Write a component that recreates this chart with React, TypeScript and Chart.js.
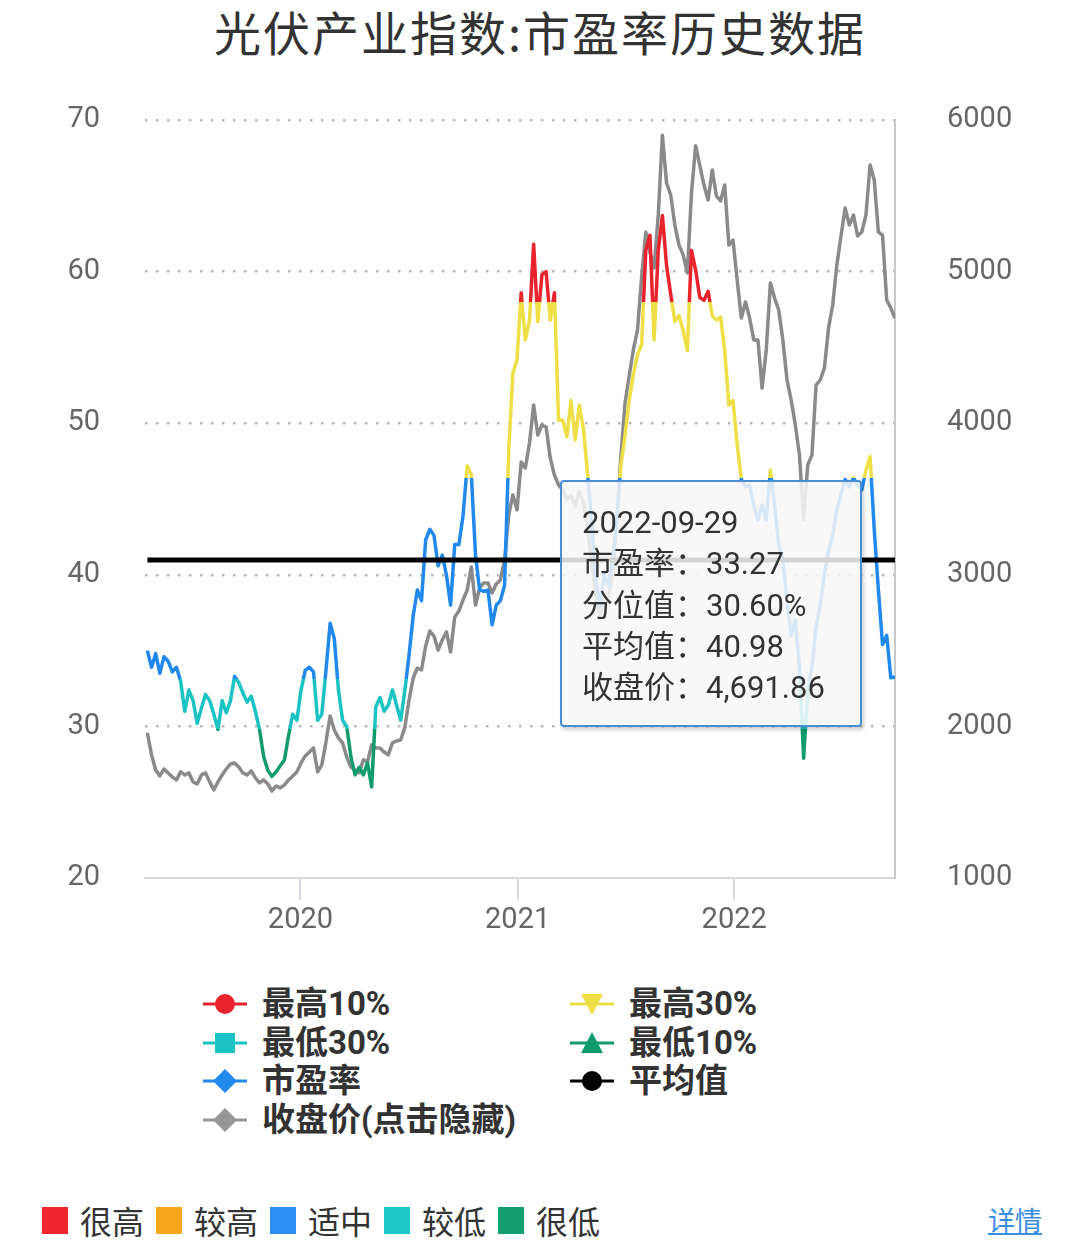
import React, { useEffect, useRef } from 'react';
import { Chart, registerables } from 'chart.js';

Chart.register(...registerables);

const TITLE = '光伏产业指数:市盈率历史数据';
const START_DATE = '2019-04-18';
const STEP_DAYS = 7;

const peValues = [
  35.0, 33.9, 34.8, 33.5, 34.6, 34.3, 33.6, 33.9, 33.0, 31.0,
  32.4, 31.7, 30.2, 31.2, 32.1, 31.7, 30.8, 29.8, 31.7, 30.9,
  31.7, 33.3, 32.9, 32.2, 31.6, 32.0, 31.0, 29.8, 28.0, 27.1,
  26.7, 27.0, 27.4, 27.8, 29.4, 30.8, 30.4, 32.4, 33.7, 33.9,
  33.6, 30.4, 30.8, 33.7, 36.8, 35.8, 32.4, 30.4, 30.0, 28.0,
  26.8, 27.3, 26.8, 27.6, 26.0, 31.3, 31.9, 31.0, 31.4, 32.4,
  31.4, 30.4, 32.4, 34.7, 37.3, 39.0, 38.3, 42.3, 43.0, 42.6,
  40.6, 41.3, 40.0, 38.0, 42.0, 42.0, 43.9, 47.2, 46.6, 41.3,
  39.0, 38.9, 39.0, 36.7, 38.0, 38.3, 39.3, 48.2, 53.3, 54.2,
  58.6, 55.5, 56.8, 61.8, 56.7, 59.8, 60.0, 56.8, 58.6, 50.2,
  50.2, 49.1, 51.5, 48.9, 51.2, 49.6, 46.6, 43.3, 39.7, 38.0,
  40.0, 39.3, 41.0, 43.6, 47.2, 49.2, 51.5, 53.2, 54.5, 55.2,
  61.4, 62.4, 55.5, 61.4, 63.7, 60.4, 58.5, 56.7, 57.1, 56.1,
  54.8, 61.4, 60.1, 58.3, 58.1, 58.7, 57.1, 56.8, 57.0, 54.8,
  51.2, 51.5, 48.6, 46.3, 45.8, 45.9, 44.6, 43.6, 44.6, 43.6,
  46.9, 44.6, 42.0, 41.0, 38.3, 36.0, 37.0, 33.9, 27.9, 32.4,
  33.9, 36.6, 38.0, 40.0, 41.6, 42.6, 44.3, 45.3, 46.3, 45.8,
  46.4, 45.9, 45.6, 46.9, 47.8, 43.0, 39.0, 35.4, 36.0, 33.2,
  33.27,
];

const closeValues = [
  1957, 1812, 1713, 1673, 1719, 1693, 1667, 1647, 1700, 1680,
  1693, 1634, 1620, 1680, 1693, 1634, 1581, 1634, 1680, 1719,
  1752, 1759, 1732, 1693, 1680, 1706, 1660, 1627, 1647, 1620,
  1574, 1607, 1594, 1614, 1647, 1673, 1700, 1759, 1805, 1831,
  1858, 1700, 1746, 1897, 2069, 1976, 1924, 1891, 1798, 1732,
  1713, 1693, 1779, 1766, 1878, 1858, 1858, 1831, 1812, 1891,
  1904, 1910, 1996, 2174, 2319, 2385, 2372, 2530, 2629, 2596,
  2504, 2570, 2623, 2491, 2722, 2761, 2834, 2900, 3052, 2801,
  2913, 2946, 2946, 2880, 2939, 2966, 3098, 3395, 3527, 3428,
  3744, 3705, 3869, 4120, 3922, 3988, 3975, 3771, 3658, 3593,
  3560, 3500, 3520, 3450, 3550, 3480, 3300, 3080, 2840, 2730,
  2880, 2850, 2990, 3350, 3780, 4133, 4311, 4483, 4615, 4964,
  5261, 5129, 5024, 5373, 5900, 5584, 5505, 5307, 5175, 5110,
  4991, 5518, 5830, 5700, 5571, 5472, 5670, 5499, 5466, 5571,
  5175, 5208, 4945, 4694, 4800, 4694, 4549, 4549, 4232, 4483,
  4925, 4826, 4747, 4549, 4285, 4153, 3988, 3790, 3362, 3724,
  3790, 4252, 4285, 4364, 4628, 4780, 5044, 5235, 5420, 5307,
  5373, 5235, 5261, 5373, 5703, 5604, 5261, 5241, 4813, 4760,
  4691.86,
];

const MEAN_PE = 40.98;
const PERCENTILE_LAST = 30.6;
const peTicks = [20, 30, 40, 50, 60, 70];
const closeTicks = [1000, 2000, 3000, 4000, 5000, 6000];
const yearTicks = [2020, 2021, 2022];
// PE band limits: top 10%, top 30%, bottom 30%, bottom 10%
const bandLimits = [58.0, 46.4, 33.1, 29.8];

const C_RED = '#e8232b';
const C_YELLOW = '#eedf46';
const C_BLUE = '#2189ec';
const C_CYAN = '#1cc3c4';
const C_GREEN = '#129c6c';
const C_GRAY = '#8a8a8a';

const DAY = 86400000;
const t0 = Date.parse(START_DATE + 'T00:00:00Z');
const dates = peValues.map((_, i) => t0 + i * STEP_DAYS * DAY);
const X_MIN = Date.UTC(2019, 3, 14);
const X_MAX = dates[dates.length - 1];

const FONT_LATIN = "Roboto, 'Noto Sans CJK SC', sans-serif";
const FONT_CJK = "'Noto Sans CJK SC', Roboto, sans-serif";

function peGradient(chart: any) {
  const { ctx, chartArea, scales } = chart;
  if (!chartArea || !scales || !scales.y) return C_BLUE;
  const top = chartArea.top;
  const bottom = chartArea.bottom;
  const g = ctx.createLinearGradient(0, top, 0, bottom);
  const pos = (v: number) =>
    Math.min(1, Math.max(0, (scales.y.getPixelForValue(v) - top) / (bottom - top)));
  const [a, b, c, d] = bandLimits.map(pos);
  g.addColorStop(0, C_RED);
  g.addColorStop(a, C_RED);
  g.addColorStop(a, C_YELLOW);
  g.addColorStop(b, C_YELLOW);
  g.addColorStop(b, C_BLUE);
  g.addColorStop(c, C_BLUE);
  g.addColorStop(c, C_CYAN);
  g.addColorStop(d, C_CYAN);
  g.addColorStop(d, C_GREEN);
  g.addColorStop(1, C_GREEN);
  return g;
}

function Marker({ shape, color }: { shape: string; color: string }) {
  return (
    <svg width="44" height="40" viewBox="0 0 44 40" style={{ display: 'block' }}>
      <line x1="0" y1="20" x2="44" y2="20" stroke={color} strokeWidth="3" />
      {shape === 'circle' && <circle cx="22" cy="20" r="10" fill={color} />}
      {shape === 'square' && <rect x="12" y="10" width="20" height="20" fill={color} />}
      {shape === 'diamond' && <polygon points="22,8 34,20 22,32 10,20" fill={color} />}
      {shape === 'triangle' && <polygon points="22,9 33,30 11,30" fill={color} />}
      {shape === 'triangle-down' && <polygon points="11,10 33,10 22,31" fill={color} />}
    </svg>
  );
}

const legendItems = [
  { label: '最高10%', shape: 'circle', color: C_RED, col: 0, row: 0 },
  { label: '最高30%', shape: 'triangle-down', color: C_YELLOW, col: 1, row: 0 },
  { label: '最低30%', shape: 'square', color: C_CYAN, col: 0, row: 1 },
  { label: '最低10%', shape: 'triangle', color: C_GREEN, col: 1, row: 1 },
  { label: '市盈率', shape: 'diamond', color: C_BLUE, col: 0, row: 2 },
  { label: '平均值', shape: 'circle', color: '#000000', col: 1, row: 2 },
  { label: '收盘价(点击隐藏)', shape: 'diamond', color: '#959595', col: 0, row: 3 },
];
const legendRowCenters = [1004, 1043, 1081, 1120];
const legendColX = [203, 570];

const levelItems = [
  { label: '很高', color: '#f0262f' },
  { label: '较高', color: '#f6a71d' },
  { label: '适中', color: '#2b8ef0' },
  { label: '较低', color: '#1fc8c8' },
  { label: '很低', color: '#12a070' },
];

export default function App() {
  const canvasRef = useRef<HTMLCanvasElement | null>(null);

  useEffect(() => {
    document.body.style.margin = '0';
    const canvas = canvasRef.current;
    if (!canvas) return;
    const last = dates.length - 1;
    const chart = new Chart(canvas, {
      type: 'line',
      data: {
        datasets: [
          {
            label: '平均值',
            data: [
              { x: dates[0], y: MEAN_PE },
              { x: dates[last], y: MEAN_PE },
            ],
            borderColor: '#000000',
            borderWidth: 5,
            pointRadius: 0,
            yAxisID: 'y',
            order: 0,
          },
          {
            label: '市盈率',
            data: dates.map((d, i) => ({ x: d, y: peValues[i] })),
            borderColor: (c: any) => peGradient(c.chart),
            borderWidth: 3.5,
            borderJoinStyle: 'round',
            pointRadius: 0,
            tension: 0,
            yAxisID: 'y',
            order: 1,
          },
          {
            label: '收盘价',
            data: dates.map((d, i) => ({ x: d, y: closeValues[i] })),
            borderColor: C_GRAY,
            borderWidth: 3.5,
            borderJoinStyle: 'round',
            pointRadius: 0,
            tension: 0,
            yAxisID: 'y1',
            order: 2,
          },
        ],
      } as any,
      options: {
        responsive: false,
        animation: false,
        layout: { padding: { top: 120, left: 0, right: 0, bottom: 0 } },
        plugins: {
          legend: { display: false },
          tooltip: { enabled: false },
          title: { display: false },
        },
        scales: {
          x: {
            type: 'linear',
            min: X_MIN,
            max: X_MAX,
            afterBuildTicks: (s: any) => {
              s.ticks = yearTicks.map((y) => ({ value: Date.UTC(y, 0, 1) }));
            },
            afterFit: (s: any) => {
              s.height = 82;
            },
            ticks: {
              autoSkip: false,
              maxRotation: 0,
              padding: 3,
              color: '#666666',
              font: { size: 29, family: FONT_LATIN },
              callback: (v: any) => String(new Date(Number(v)).getUTCFullYear()),
            },
            grid: {
              drawOnChartArea: false,
              drawTicks: true,
              tickLength: 22,
              color: '#d6d9e0',
              lineWidth: 2,
            },
            border: { display: true, color: '#d6d9e0', width: 2 },
          },
          y: {
            type: 'linear',
            position: 'left',
            min: peTicks[0],
            max: peTicks[peTicks.length - 1],
            afterBuildTicks: (s: any) => {
              s.ticks = peTicks.map((v) => ({ value: v }));
            },
            afterFit: (s: any) => {
              s.width = 145;
            },
            ticks: {
              padding: 45,
              color: '#666666',
              font: { size: 29, family: FONT_LATIN },
              callback: (v: any) => String(v),
            },
            grid: {
              drawTicks: false,
              lineWidth: 2.5,
              color: (c: any) => (c.tick && c.tick.value === peTicks[0] ? 'rgba(0,0,0,0)' : '#b8b8b8'),
            },
            border: { display: false, dash: [2.5, 8.5] },
          },
          y1: {
            type: 'linear',
            position: 'right',
            min: closeTicks[0],
            max: closeTicks[closeTicks.length - 1],
            afterBuildTicks: (s: any) => {
              s.ticks = closeTicks.map((v) => ({ value: v }));
            },
            afterFit: (s: any) => {
              s.width = 185;
            },
            ticks: {
              padding: 52,
              color: '#666666',
              font: { size: 29, family: FONT_LATIN },
              callback: (v: any) => String(v),
            },
            grid: { display: false, drawTicks: false },
            border: { display: true, color: '#c8c8c8', width: 2 },
          },
        },
      } as any,
    });
    return () => chart.destroy();
  }, []);

  const last = dates.length - 1;
  const tipDate = new Date(dates[last]).toISOString().slice(0, 10);
  const tipLines = [
    tipDate,
    '市盈率：' + peValues[last].toFixed(2),
    '分位值：' + PERCENTILE_LAST.toFixed(2) + '%',
    '平均值：' + MEAN_PE.toFixed(2),
    '收盘价：' +
      closeValues[last].toLocaleString('en-US', { minimumFractionDigits: 2, maximumFractionDigits: 2 }),
  ];

  return (
    <div style={{ position: 'relative', width: 1080, height: 1259, background: '#ffffff', overflow: 'hidden' }}>
      <div
        style={{
          position: 'absolute',
          left: 0,
          top: -4,
          width: 1080,
          height: 70,
          lineHeight: '70px',
          textAlign: 'center',
          fontFamily: FONT_CJK,
          fontSize: 47,
          letterSpacing: 2,
          color: '#333333',
        }}
      >
        {TITLE}
      </div>

      <canvas
        ref={canvasRef}
        width={1080}
        height={960}
        style={{ position: 'absolute', left: 0, top: 0, width: 1080, height: 960 }}
      />

      <div
        style={{
          position: 'absolute',
          left: 560,
          top: 480,
          width: 302,
          height: 247,
          boxSizing: 'border-box',
          border: '2px solid #4a8fd6',
          borderRadius: 4,
          background: 'rgba(247,247,247,0.86)',
          boxShadow: '2px 3px 4px rgba(0,0,0,0.18)',
          paddingTop: 20,
          paddingLeft: 20,
        }}
      >
        {tipLines.map((t, i) => (
          <div
            key={i}
            style={{
              height: 41.3,
              lineHeight: '41.3px',
              fontFamily: FONT_LATIN,
              fontSize: 31,
              color: '#333333',
              whiteSpace: 'nowrap',
            }}
          >
            {t}
          </div>
        ))}
      </div>

      {legendItems.map((it, i) => (
        <div
          key={i}
          style={{
            position: 'absolute',
            left: legendColX[it.col],
            top: legendRowCenters[it.row] - 20,
            height: 40,
            display: 'flex',
            alignItems: 'center',
            whiteSpace: 'nowrap',
          }}
        >
          <Marker shape={it.shape} color={it.color} />
          <span
            style={{
              marginLeft: 15,
              fontFamily: FONT_LATIN,
              fontWeight: 700,
              fontSize: 33,
              lineHeight: '40px',
              color: '#333333',
            }}
          >
            {it.label}
          </span>
        </div>
      ))}

      <div
        style={{
          position: 'absolute',
          left: 42,
          top: 1200,
          height: 40,
          display: 'flex',
          alignItems: 'center',
          whiteSpace: 'nowrap',
        }}
      >
        {levelItems.map((it, i) => (
          <div key={i} style={{ display: 'flex', alignItems: 'center', marginRight: 12 }}>
            <div style={{ width: 26, height: 27, background: it.color }} />
            <span
              style={{
                marginLeft: 12,
                fontFamily: FONT_CJK,
                fontSize: 32,
                lineHeight: '40px',
                color: '#333333',
              }}
            >
              {it.label}
            </span>
          </div>
        ))}
      </div>

      <div
        style={{
          position: 'absolute',
          left: 988,
          top: 1200,
          height: 40,
          lineHeight: '40px',
          fontFamily: FONT_CJK,
          fontSize: 27,
          color: '#3a8ee0',
          textDecoration: 'underline',
        }}
      >
        详情
      </div>
    </div>
  );
}
